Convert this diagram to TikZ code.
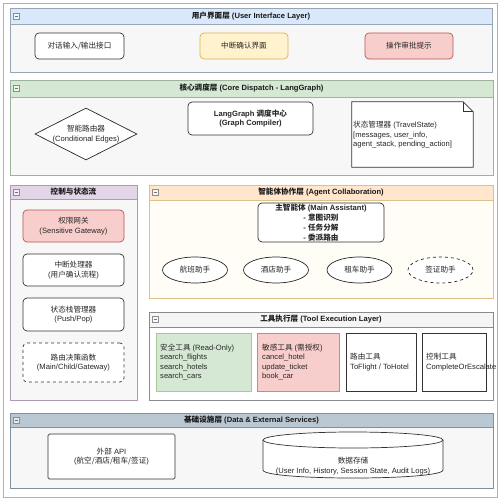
\documentclass[tikz,border=0pt]{standalone}
\usepackage{fontspec}
\setmainfont{Liberation Sans}
\newfontfamily\cjk{Noto Sans CJK SC}
\usetikzlibrary{shapes.geometric}
\newcommand\zh[1]{{\cjk #1}}
\newcommand\layerbox[8]{%
  \draw[draw=#7, fill=#8, line width=0.7pt] (#1,#2) rectangle (#3,#4);
  \draw[draw=#7, fill=#6, line width=0.7pt] (#1,#2) rectangle (#3,#5);
  \draw[draw=black!45, fill=white!60!#6, line width=0.4pt] (#1+3,{(#2+#5)/2-3}) rectangle (#1+9,{(#2+#5)/2+3});
  \draw[black!55, line width=0.4pt] (#1+4.5,{(#2+#5)/2}) -- (#1+7.5,{(#2+#5)/2});
}
\definecolor{bodyg}{HTML}{F7F7F7}
\definecolor{hblue}{HTML}{DAE8FC}
\definecolor{bblue}{HTML}{98A5B5}
\definecolor{hgreen}{HTML}{D5E8D4}
\definecolor{bgreen}{HTML}{9CB59A}
\definecolor{hpurple}{HTML}{E1D5E7}
\definecolor{bpurple}{HTML}{A99BB0}
\definecolor{horange}{HTML}{FFE6CC}
\definecolor{borange}{HTML}{D9C38A}
\definecolor{bodyy}{HTML}{FFFDF5}
\definecolor{hgray}{HTML}{F5F5F5}
\definecolor{bgray}{HTML}{8A8A8A}
\definecolor{hslate}{HTML}{BAC8D3}
\definecolor{bslate}{HTML}{7F909E}
\definecolor{fyellow}{HTML}{FFF2CC}
\definecolor{dyellow}{HTML}{D6B656}
\definecolor{fred}{HTML}{F8CECC}
\definecolor{dred}{HTML}{B85450}
\definecolor{fgreen}{HTML}{D5E8D4}
\definecolor{dgreen}{HTML}{82B366}
\tikzset{
  every node/.style={font=\fontsize{7.6}{9.5}\selectfont, text=black!85},
  title/.style={font=\bfseries\fontsize{7.6}{9.5}\selectfont, text=black!90},
  box/.style={draw=black!80, fill=white, rounded corners=4pt, line width=0.7pt, align=center, inner sep=0pt},
  sqbox/.style={draw=black!80, fill=white, line width=0.7pt, align=center, inner sep=0pt},
  agent/.style={ellipse, draw=black!85, fill=white, line width=0.7pt, minimum width=65pt, minimum height=26pt, inner sep=0pt},
}
\begin{document}
\begin{tikzpicture}[x=1pt,y=-1pt]
\useasboundingbox (0,0) rectangle (500,501);
\fill[white] (0,0) rectangle (500,501);
\draw[black!30, line width=0.6pt] (3,3) rectangle (497,497);

% Layer 1: UI
\layerbox{10}{8}{492}{72}{24}{hblue}{bblue}{bodyg}
\node[title] (uititle) at (251,16) {\zh{用户界面层} (User Interface Layer)};
\node[box, minimum width=89pt, minimum height=26pt] (uiio) at (79.5,46) {\zh{对话输入/输出接口}};
\node[box, fill=fyellow, draw=dyellow, minimum width=88pt, minimum height=26pt] (uiint) at (244,46) {\zh{中断确认界面}};
\node[box, fill=fred, draw=dred, minimum width=88pt, minimum height=26pt] (uiappr) at (409,46) {\zh{操作审批提示}};

% Layer 2: Core dispatch
\layerbox{10}{80}{493}{175}{97}{hgreen}{bgreen}{bodyg}
\node[title] (coretitle) at (251.5,88.5) {\zh{核心调度层} (Core Dispatch - LangGraph)};
\node[diamond, aspect=2, draw=black!85, fill=white, line width=0.7pt, inner sep=0pt, minimum width=102pt, minimum height=52pt, align=center] (router) at (86,134) {\zh{智能路由器}\\(Conditional Edges)};
\node[box, minimum width=125pt, minimum height=33pt, font=\bfseries\fontsize{7.6}{9.5}\selectfont] (lg) at (250.5,118.5) {LangGraph \zh{调度中心}\\(Graph Compiler)};
\node[minimum width=121pt, minimum height=65pt, inner sep=0pt] (st) at (412.5,134.5) {};
\draw[draw=black!80, fill=white, line width=0.7pt] (st.north west) -- ([xshift=-10pt]st.north east) -- ([yshift=-10pt]st.north east) -- (st.south east) -- (st.south west) -- cycle;
\draw[draw=black!80, line width=0.7pt] ([xshift=-10pt]st.north east) -- ([xshift=-10pt,yshift=-10pt]st.north east) -- ([yshift=-10pt]st.north east);
\node[anchor=west, align=left, inner sep=0pt] (sttext) at (353,135) {\zh{状态管理器} (TravelState)\\{[}messages, user\_info,\\agent\_stack, pending\_action{]}};

% Layer 3 left: control
\layerbox{10}{185}{137}{400}{199}{hpurple}{bpurple}{bodyg}
\node[title] (ctitle) at (73.5,192) {\zh{控制与状态流}};
\node[box, fill=fred, draw=dred, minimum width=101pt, minimum height=32pt] (gw) at (73.5,226) {\zh{权限网关}\\(Sensitive Gateway)};
\node[box, minimum width=101pt, minimum height=32pt] (intr) at (73.5,270) {\zh{中断处理器}\\(\zh{用户确认流程})};
\node[box, minimum width=101pt, minimum height=33pt] (stack) at (73.5,314.5) {\zh{状态栈管理器}\\(Push/Pop)};
\node[box, dashed, minimum width=101pt, minimum height=39pt] (rfunc) at (73.5,362.5) {\zh{路由决策函数}\\(Main/Child/Gateway)};

% Layer 3 right: agents
\layerbox{149}{185}{493}{298}{200}{horange}{borange}{bodyy}
\node[title] (atitle) at (321,192.5) {\zh{智能体协作层} (Agent Collaboration)};
\node[box, minimum width=126pt, minimum height=39pt, font=\bfseries\fontsize{7.6}{9.8}\selectfont] (main) at (321,222.5) {\zh{主智能体} (Main Assistant)\\- \zh{意图识别}\\- \zh{任务分解}\\- \zh{委派路由}};
\node[agent] (flight) at (195,270) {\zh{航班助手}};
\node[agent] (hotel) at (276,270) {\zh{酒店助手}};
\node[agent] (car) at (359.5,270) {\zh{租车助手}};
\node[agent, dashed] (visa) at (440.5,270) {\zh{签证助手}};

% Layer 4: tools
\layerbox{149}{312}{493}{400}{327}{hgray}{bgray}{white}
\node[title] (ttitle) at (321,319.5) {\zh{工具执行层} (Tool Execution Layer)};
\node[sqbox, fill=fgreen, draw=dgreen!70, minimum width=95pt, minimum height=58pt] (safe) at (203.5,362) {};
\node[anchor=west, align=left, inner sep=0pt] (safetext) at (160,362) {\zh{安全工具} (Read-Only)\\search\_flights\\search\_hotels\\search\_cars};
\node[sqbox, fill=fred, draw=dred!70, minimum width=82pt, minimum height=58pt] (sens) at (298,362) {};
\node[anchor=west, align=left, inner sep=0pt] (senstext) at (262,362) {\zh{敏感工具} (\zh{需授权})\\cancel\_hotel\\update\_ticket\\book\_car};
\node[sqbox, minimum width=70pt, minimum height=58pt] (route) at (381,362) {};
\node[anchor=west, align=left, inner sep=0pt] (routetext) at (350,362) {\zh{路由工具}\\ToFlight / ToHotel};
\node[sqbox, minimum width=64pt, minimum height=58pt] (ctrl) at (454,362) {};
\node[anchor=west, align=left, inner sep=0pt] (ctrltext) at (426,362) {\zh{控制工具}\\CompleteOrEscalate};

% Layer 5: data
\layerbox{10}{413}{493}{488}{427}{hslate}{bslate}{bodyg}
\node[title] (dtitle) at (251.5,420) {\zh{基础设施层} (Data \& External Services)};
\node[sqbox, rounded corners=1.5pt, minimum width=127pt, minimum height=45pt] (api) at (111.5,456.5) {\zh{外部} API\\(\zh{航空/酒店/租车/签证})};
\fill[white] (263,440) -- (263,470) .. controls (263,480.67) and (443,480.67) .. (443,470) -- (443,440) -- cycle;
\draw[black!80, line width=0.7pt] (263,440) -- (263,470) .. controls (263,480.67) and (443,480.67) .. (443,470) -- (443,440);
\draw[black!80, fill=white, line width=0.7pt] (353,440) ellipse [x radius=90, y radius=8];
\node[align=center, inner sep=0pt] (db) at (353,466) {\zh{数据存储}\\(User Info, History, Session State, Audit Logs)};
\end{tikzpicture}
\end{document}
